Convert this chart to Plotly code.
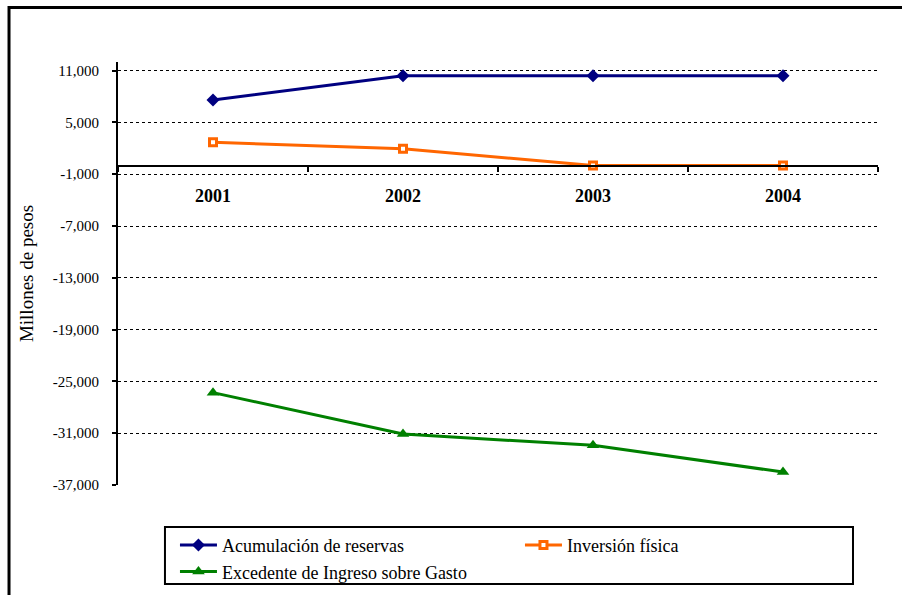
import plotly.graph_objects as go

# Categories and series (millones de pesos)
years = ["2001", "2002", "2003", "2004"]
reservas = [7600, 10400, 10400, 10400]
inversion = [2700, 1950, 0, 0]
excedente = [-26300, -31100, -32400, -35500]

# Value-axis ticks
y_ticks = [-37000, -31000, -25000, -19000, -13000, -7000, -1000, 5000, 11000]
y_tick_labels = ["-37,000", "-31,000", "-25,000", "-19,000", "-13,000",
                 "-7,000", "-1,000", "5,000", "11,000"]
y_min, y_max = -37000, 12000

SERIF = "Liberation Serif"

fig = go.Figure()
fig.add_trace(go.Scatter(
    x=years, y=reservas, name="Acumulación de reservas", mode="lines+markers",
    line=dict(color="#000080", width=3),
    marker=dict(symbol="diamond", size=10, color="#000080"),
))
fig.add_trace(go.Scatter(
    x=years, y=inversion, name="Inversión física", mode="lines+markers",
    line=dict(color="#FF6600", width=3),
    marker=dict(symbol="square", size=7, color="white",
                line=dict(color="#FF6600", width=3)),
))
fig.add_trace(go.Scatter(
    x=years, y=excedente, name="Excedente de Ingreso sobre Gasto",
    mode="lines+markers",
    line=dict(color="#008000", width=3),
    marker=dict(symbol="triangle-up", size=11, color="#008000"),
))

# Category axis crosses the value axis at zero
zero_pos = (0 - y_min) / (y_max - y_min)

fig.update_layout(
    width=902, height=595,
    margin=dict(l=118, r=24, t=62, b=110, autoexpand=False),
    paper_bgcolor="white", plot_bgcolor="white",
    font=dict(family=SERIF, color="black"),
    showlegend=True,
    legend=dict(
        orientation="h", x=0.0618, xanchor="left", y=-0.099, yanchor="top",
        borderwidth=0, bgcolor="rgba(0,0,0,0)",
        font=dict(family=SERIF, size=18, color="black"),
        itemwidth=37, entrywidth=283, entrywidthmode="pixels", indentation=10,
        traceorder="normal", tracegroupgap=0,
    ),
    xaxis=dict(
        type="category", range=[-0.5, 3.5],
        anchor="free", position=zero_pos,
        showline=True, linecolor="black", linewidth=2,
        ticks="outside", tickson="boundaries", ticklen=5, tickwidth=1.5,
        tickcolor="black", showgrid=False, zeroline=False,
        tickfont=dict(family=SERIF, size=18, color="black", weight="bold"),
        ticklabelstandoff=14,
    ),
    yaxis=dict(
        range=[y_min, y_max],
        tickvals=y_ticks, ticktext=y_tick_labels,
        showline=True, linecolor="black", linewidth=2,
        ticks="outside", ticklen=4, tickwidth=1.5, tickcolor="black",
        showgrid=True, gridcolor="black", gridwidth=1, griddash="dot",
        zeroline=False, ticklabelstandoff=10,
        tickfont=dict(family=SERIF, size=15, color="black"),
        title=dict(text="Millones de pesos", standoff=14,
                   font=dict(family=SERIF, size=19, color="black")),
    ),
    shapes=[
        # outer chart frame
        dict(type="rect", xref="paper", yref="paper",
             x0=-0.1434, x1=1.05, y0=-0.28, y1=1.1288,
             line=dict(color="black", width=3), fillcolor="rgba(0,0,0,0)",
             layer="below"),
        # legend box
        dict(type="rect", xref="paper", yref="paper",
             x0=0.0618, x1=0.9671, y0=-0.234, y1=-0.0993,
             line=dict(color="black", width=2), fillcolor="rgba(0,0,0,0)",
             layer="above"),
    ],
)

fig.write_html("out.html")
